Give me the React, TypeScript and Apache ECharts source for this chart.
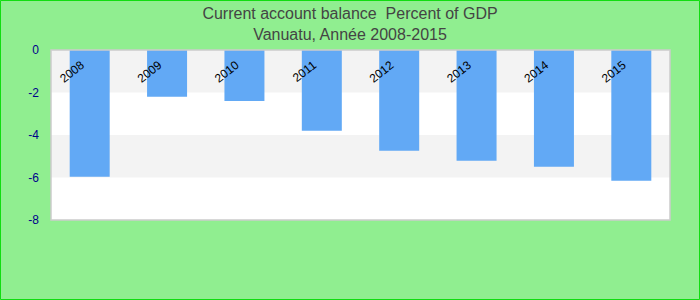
import React, { useEffect, useRef } from "react";
import * as echarts from "echarts";

const categories = ["2008", "2009", "2010", "2011", "2012", "2013", "2014", "2015"];
const values = [-5.96, -2.2, -2.4, -3.8, -4.74, -5.21, -5.49, -6.15];
const yMin = -8;
const yMax = 0;
const yInterval = 2;

const W = 700;
const H = 300;
const G = { left: 51, right: 30, top: 50, bottom: 80 };

export default function App() {
  const ref = useRef<HTMLDivElement>(null);
  useEffect(() => {
    document.body.style.margin = "0";
    const chart = echarts.init(ref.current!, null, { renderer: "svg" });
    chart.setOption({
      animation: false,
      backgroundColor: "#90ee90",
      title: {
        text: "Current account balance  Percent of GDP\nVanuatu, Année 2008-2015",
        left: "center",
        top: -2,
        textStyle: {
          fontFamily: "Liberation Sans, Arial, sans-serif",
          fontSize: 16,
          fontWeight: "normal",
          color: "#444444",
          lineHeight: 21,
        },
      },
      grid: {
        left: G.left,
        right: G.right,
        top: G.top,
        bottom: G.bottom,
        show: true,
        borderWidth: 0,
        backgroundColor: "#ffffff",
      },
      graphic: [
        {
          type: "rect",
          shape: { x: 0.5, y: 0.5, width: W - 1, height: H - 1 },
          style: { fill: "none", stroke: "#11dd11", lineWidth: 1 },
          z: 100,
        },
        {
          type: "rect",
          shape: {
            x: G.left,
            y: G.top,
            width: W - G.left - G.right,
            height: H - G.top - G.bottom,
          },
          style: { fill: "none", stroke: "#cccccc", lineWidth: 1.5 },
          z: 100,
        },
      ],
      xAxis: {
        type: "category",
        data: categories,
        position: "top",
        axisLine: { show: false },
        axisTick: { show: false },
        axisLabel: {
          inside: true,
          rotate: 38,
          margin: 8,
          padding: [0, 9, 0, 0],
          fontSize: 12,
          color: "#000000",
          fontFamily: "Liberation Sans, Arial, sans-serif",
        },
        z: 10,
      },
      yAxis: {
        type: "value",
        min: yMin,
        max: yMax,
        interval: yInterval,
        axisLine: { show: false },
        axisTick: { show: false },
        splitLine: { show: false },
        splitArea: {
          show: true,
          areaStyle: { color: ["#ffffff", "#f3f3f3"] },
        },
        axisLabel: {
          fontSize: 12,
          color: "#00008b",
          margin: 12,
          fontFamily: "Liberation Sans, Arial, sans-serif",
        },
      },
      series: [
        {
          type: "bar",
          data: values,
          barWidth: 40,
          itemStyle: { color: "#62a9f5" },
        },
      ],
    });
    return () => chart.dispose();
  }, []);
  return <div ref={ref} style={{ width: W, height: H }} />;
}
